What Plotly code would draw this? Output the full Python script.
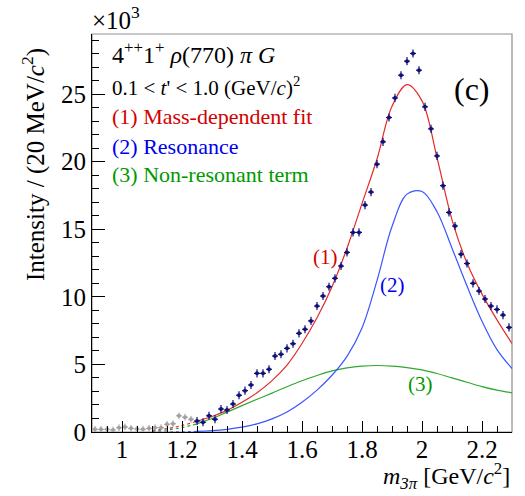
import plotly.graph_objects as go

# ---------------- data (intensity in units of 10^3) ----------------
gray_mass = [0.91, 0.93, 0.95, 0.97, 0.99, 1.01, 1.03, 1.05, 1.07, 1.09, 1.11,
             1.13, 1.15, 1.17, 1.19, 1.21, 1.23]
gray_int = [0.20, 0.20, 0.20, 0.15, 0.32, 0.37, 0.27, 0.22, 0.20, 0.27, 0.32,
            0.32, 0.57, 0.61, 1.20, 1.10, 0.94]

data_mass = [1.25, 1.27, 1.29, 1.31, 1.33, 1.35, 1.37, 1.39, 1.41, 1.43, 1.45,
             1.47, 1.49, 1.51, 1.53, 1.55, 1.57, 1.59, 1.61, 1.63, 1.65, 1.67,
             1.69, 1.71, 1.73, 1.75, 1.77, 1.79, 1.81, 1.83, 1.85, 1.87, 1.89,
             1.91, 1.93, 1.95, 1.97, 1.99, 2.01, 2.03, 2.05, 2.07, 2.09, 2.11,
             2.13, 2.15, 2.17, 2.19, 2.21, 2.23, 2.25, 2.27, 2.29]
data_int = [0.81, 0.72, 1.20, 0.94, 1.70, 1.63, 2.07, 2.72, 3.06, 3.48, 4.34,
            4.34, 4.64, 5.62, 5.75, 6.19, 6.53, 7.30, 7.60, 8.22, 9.32, 10.06,
            10.75, 11.37, 12.28, 13.29, 14.77, 14.77, 16.79, 17.75, 19.82, 21.47, 23.27,
            24.72, 26.40, 27.44, 28.01, 26.77, 24.06, 22.43, 20.43, 18.23, 16.25, 15.24,
            13.16, 12.47, 11.00, 10.43, 9.84, 9.32, 9.07, 8.65, 7.74]

curve_mass = [1.10, 1.15, 1.20, 1.25, 1.30, 1.35, 1.40, 1.45, 1.50, 1.55, 1.60,
              1.65, 1.70, 1.75, 1.80, 1.85, 1.90, 1.95, 2.00, 2.05, 2.10, 2.15,
              2.20, 2.25, 2.30]
fit_total = [0.12, 0.25, 0.48, 0.80, 1.15, 1.60, 2.20, 2.90, 3.80, 4.95, 6.55,
             8.45, 10.75, 13.60, 16.90, 20.20, 24.10, 25.70, 24.50, 20.30, 15.70, 12.50,
             10.20, 8.30, 6.55]
fit_resonance = [0.00, 0.00, 0.01, 0.04, 0.10, 0.20, 0.36, 0.60, 0.97, 1.48, 2.20,
                 3.10, 4.20, 5.60, 7.70, 11.20, 15.20, 17.60, 17.80, 16.30, 13.60, 10.80,
                 8.20, 6.10, 4.70]
fit_nonres = [0.05, 0.15, 0.32, 0.60, 1.00, 1.47, 1.95, 2.42, 2.88, 3.35, 3.79,
              4.18, 4.52, 4.74, 4.87, 4.92, 4.88, 4.77, 4.60, 4.33, 4.00, 3.68,
              3.36, 3.10, 2.90]

x_tickvals = [1.0, 1.2, 1.4, 1.6, 1.8, 2.0, 2.2]
x_ticktext = ["1", "1.2", "1.4", "1.6", "1.8", "2", "2.2"]
y_tickvals = [0, 5, 10, 15, 20, 25]
y_ticktext = ["0", "5", "10", "15", "20", "25"]

FIT_START = 1.25

# ---------------- figure ----------------
SERIF = "Liberation Serif, Times New Roman, serif"
RED = "#e32a2a"
BLUE = "#3a55ff"
GREEN = "#2fa82f"
RED_T = "#d40000"
BLUE_T = "#0000ee"
GREEN_T = "#009900"

fig = go.Figure()


def add_curve(vals, color):
    dm = [m for m in curve_mass if m <= FIT_START]
    dv = [v for m, v in zip(curve_mass, vals) if m <= FIT_START]
    sm = [m for m in curve_mass if m >= FIT_START]
    sv = [v for m, v in zip(curve_mass, vals) if m >= FIT_START]
    fig.add_trace(go.Scatter(x=dm, y=dv, mode="lines", showlegend=False,
                             line=dict(color=color, width=1.2, dash="dot", shape="spline")))
    fig.add_trace(go.Scatter(x=sm, y=sv, mode="lines", showlegend=False,
                             line=dict(color=color, width=1.2, shape="spline", smoothing=1.0)))


add_curve(fit_nonres, GREEN)
add_curve(fit_resonance, BLUE)
add_curve(fit_total, RED)

fig.add_trace(go.Scatter(
    x=gray_mass, y=gray_int, mode="markers", showlegend=False,
    marker=dict(color="#a0a0a0", size=4),
    error_x=dict(type="constant", value=0.01, color="#a0a0a0", thickness=1, width=0),
    error_y=dict(type="constant", value=0.25, color="#a0a0a0", thickness=1, width=0),
))
fig.add_trace(go.Scatter(
    x=data_mass, y=data_int, mode="markers", showlegend=False,
    marker=dict(color="#10107a", size=4),
    error_x=dict(type="constant", value=0.01, color="#10107a", thickness=1.2, width=0),
    error_y=dict(type="constant", value=0.3, color="#10107a", thickness=1.2, width=0),
))

# pixel -> paper helpers (plot area x 92..512, y 34..432)
L, R, T, B = 92, 512, 34, 432


def px(xp):
    return (xp - L) / (R - L)


def py(yp):
    return (B - yp) / (B - T)


ann = []


def text(xp, yp, s, size, color="black", xanchor="left", yanchor="middle", angle=0):
    ann.append(dict(x=px(xp), y=py(yp), xref="paper", yref="paper", text=s,
                    showarrow=False, xanchor=xanchor, yanchor=yanchor, textangle=angle,
                    font=dict(family=SERIF, size=size, color=color)))


text(110, 53, "4<sup>++</sup>1<sup>+</sup> <i>ρ</i>(770) <i>π G</i>", 24)
text(110, 86, "0.1 &lt; <i>t</i>' &lt; 1.0 (GeV/<i>c</i>)<sup>2</sup>", 21)
text(110, 117, "(1) Mass-dependent fit", 22, RED_T)
text(110, 146, "(2) Resonance", 22, BLUE_T)
text(110, 174, "(3) Non-resonant term", 22, GREEN_T)
text(472, 89, "(c)", 32, "black", xanchor="center")
text(325, 257, "(1)", 21, RED_T, xanchor="center")
text(392, 285, "(2)", 21, BLUE_T, xanchor="center")
text(420, 384, "(3)", 21, GREEN_T, xanchor="center")
text(90, 18, "×10<sup>3</sup>", 25)
text(512, 495, "<i>m</i><sub><i>3π</i></sub> [GeV/<i>c</i><sup>2</sup>]", 24,
     xanchor="right", yanchor="bottom")
text(33, 165, "Intensity / (20 MeV/<i>c</i><sup>2</sup>)", 25, xanchor="center", angle=-90)

fig.update_layout(
    width=525, height=496,
    margin=dict(l=L, r=525 - R, t=T, b=496 - B),
    plot_bgcolor="white", paper_bgcolor="white",
    annotations=ann,
    font=dict(family=SERIF, size=25, color="black"),
    shapes=[dict(type="rect", xref="paper", yref="paper", x0=0, x1=1, y0=0, y1=1,
                 line=dict(color="#909090", width=1.2), layer="below")],
)
fig.update_xaxes(
    range=[0.9, 2.3], showgrid=False, zeroline=False,
    showline=True, linecolor="black", linewidth=1.2,
    tickmode="array", tickvals=x_tickvals, ticktext=x_ticktext,
    ticks="inside", ticklen=11, tickwidth=1.2, tickcolor="black",
    ticklabelstandoff=-5,
    minor=dict(dtick=0.05, tick0=0.9, ticks="inside", ticklen=6, tickwidth=1, tickcolor="black"),
    tickfont=dict(family=SERIF, size=25),
)
fig.update_yaxes(
    range=[0, 29.45], showgrid=False, zeroline=False,
    showline=True, linecolor="black", linewidth=1.2,
    tickmode="array", tickvals=y_tickvals, ticktext=y_ticktext,
    ticks="inside", ticklen=13, tickwidth=1.2, tickcolor="black",
    minor=dict(dtick=1, tick0=0, ticks="inside", ticklen=7, tickwidth=1, tickcolor="black"),
    tickfont=dict(family=SERIF, size=25),
)

fig.write_html("out.html")
